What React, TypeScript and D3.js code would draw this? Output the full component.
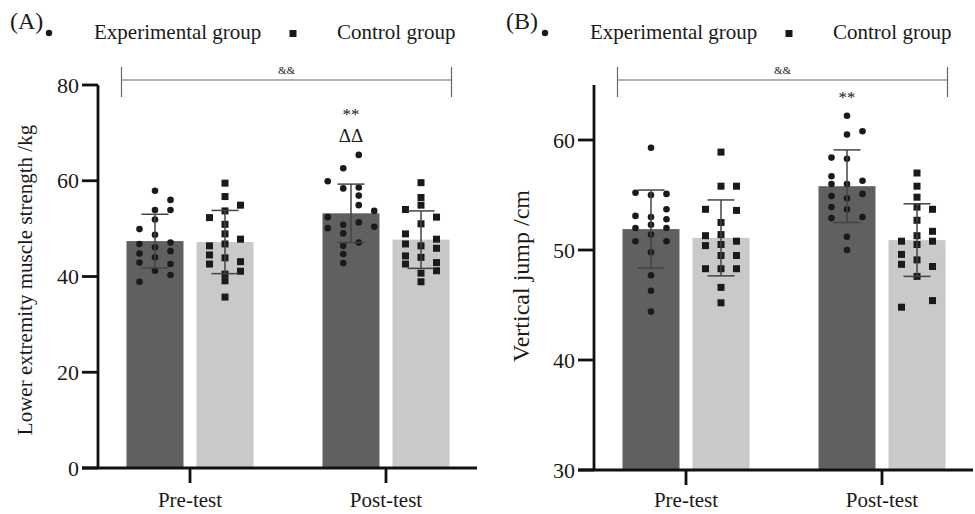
import React from 'react'
import * as d3 from 'd3'

const phases = ['Pre-test', 'Post-test']
const groups = ['Experimental group', 'Control group']

// [value, swarm column]
const strengthExpPre: [number, number][] = [
  [49.9, -1], [46.8, -1], [44.8, -1], [42.9, -1], [38.9, -1],
  [57.9, 0], [53.9, 0], [51.9, 0], [48.7, 0], [46.1, 0], [44.0, 0], [41.2, 0],
  [56.0, 1], [53.9, 1], [47.1, 1], [45.3, 1], [42.6, 1], [40.3, 1],
]
const strengthCtrlPre: [number, number][] = [
  [59.5, 0], [56.7, 0], [53.7, 0], [50.9, 0], [48.9, 0], [46.8, 0], [43.9, 0], [40.5, 0], [39.1, 0], [35.7, 0],
  [52.3, -1], [46.4, -1], [44.5, -1], [42.6, -1],
  [54.9, 1], [47.8, 1], [43.1, 1], [41.1, 1],
]
const strengthExpPost: [number, number][] = [
  [65.4, 0.5], [62.6, -0.5], [59.9, -1.5], [58.4, -0.5], [58.6, 0.5], [56.9, 0.5], [54.9, 0.5],
  [53.7, 1.5], [52.4, -1.5], [50.1, -1.5], [50.8, -0.5], [49.0, -0.5], [51.3, 0.5], [50.4, 1.5],
  [47.1, 0.5], [46.4, -0.5], [44.7, -0.5], [42.8, -0.5],
]
const strengthCtrlPost: [number, number][] = [
  [59.6, 0], [56.5, 0], [54.9, 0], [51.0, 0], [46.4, 0], [44.0, 0], [40.7, 0], [38.9, 0],
  [54.0, -1], [48.9, -1], [46.8, -1], [44.3, -1], [42.6, -1],
  [52.4, 1], [47.8, 1], [45.9, 1], [42.9, 1], [41.2, 1],
]
const strengthMeans = [[47.4, 47.2], [53.2, 47.7]]
const strengthSd = [[5.6, 6.6], [6.1, 6.0]]
const strengthTicks = [0, 20, 40, 60, 80]

const jumpExpPre: [number, number][] = [
  [59.3, 0], [55.2, -1], [55.0, 0], [55.1, 1], [53.7, 1], [53.1, -1], [53.0, 0], [52.8, 1], [52.0, -1],
  [52.3, 0], [52.0, 1], [51.4, 0], [50.8, -1], [50.8, 1], [49.8, 0], [47.7, 0], [46.3, 0], [44.4, 0],
]
const jumpCtrlPre: [number, number][] = [
  [58.9, 0], [55.8, 0], [55.8, 1], [53.7, -1], [53.6, 1], [52.5, 0], [51.3, -1], [51.4, 0], [50.4, -1],
  [50.5, 0], [50.8, 1], [49.5, 0], [49.5, 1], [48.3, -1], [48.3, 0], [48.3, 1], [46.6, 0], [45.2, 0],
]
const jumpExpPost: [number, number][] = [
  [62.2, 0], [60.5, 0], [60.8, 1], [58.4, -1], [58.3, 0], [56.7, -1], [56.0, -1], [56.0, 0], [56.3, 1],
  [54.9, -1], [54.7, 0], [55.1, 1], [53.9, -1], [53.7, 0], [52.9, -1], [53.0, 1], [51.2, 0], [50.0, 0],
]
const jumpCtrlPost: [number, number][] = [
  [57.0, 0], [55.8, 0], [54.8, 0], [53.9, 0], [53.7, 1], [52.7, 0], [51.7, 1], [51.3, 0], [50.8, -1],
  [50.5, 0], [50.8, 1], [49.6, -1], [49.1, 0], [48.7, -1], [48.5, 1], [47.6, 0], [45.4, 1], [44.8, -1],
]
const jumpMeans = [[51.9, 51.1], [55.8, 50.9]]
const jumpSd = [[3.55, 3.45], [3.3, 3.3]]
const jumpTicks = [30, 40, 50, 60]

const FONT = '"Liberation Serif", "Times New Roman", serif'
const DARK = '#606060'
const LIGHT = '#c8c9cb'
const INK = '#1a1a1a'

type Props = {
  ox: number
  yBottom: number
  tag: string
  title: string
  titleY: number
  titleSize: number
  domain: [number, number]
  ticks: number[]
  means: number[][]
  sds: number[][]
  points: [number, number][][][]
  marks: string[]
}

function Panel({ ox, yBottom, tag, title, titleY, titleSize, domain, ticks, means, sds, points, marks }: Props) {
  const y = d3.scaleLinear().domain(domain).range([yBottom, 85])
  const x = d3.scalePoint<string>().domain(phases).range([92, 288])
  const g = d3.scaleBand<string>().domain(groups).range([-63.5, 63.5]).paddingInner(0.186)
  const bw = g.bandwidth()
  const col = 15.5

  const left = (x(phases[0]) ?? 0) + (g(groups[0]) ?? 0) - 5
  const right = (x(phases[1]) ?? 0) + (g(groups[1]) ?? 0) + bw + 2

  return (
    <g transform={`translate(${ox},0)`} fontFamily={FONT} fill={INK}>
      {/* legend */}
      <text x={-88} y={29} fontSize={24}>{tag}</text>
      <circle cx={-49} cy={33} r={3.2} />
      <text x={-4} y={39} fontSize={21}>{groups[0]}</text>
      <rect x={191.5} y={30} width={7} height={7} />
      <text x={239} y={39} fontSize={21}>{groups[1]}</text>

      {/* bracket */}
      <g stroke="#666" strokeWidth={1.2} fill="none">
        <line x1={left} x2={right} y1={80} y2={80} />
        <line x1={left} x2={left} y1={67} y2={97} />
        <line x1={right} x2={right} y1={67} y2={97} />
      </g>
      <text x={(left + right) / 2} y={74} fontSize={11} textAnchor="middle">&amp;&amp;</text>

      {phases.map((p, i) =>
        groups.map((gr, j) => {
          const bx = (x(p) ?? 0) + (g(gr) ?? 0)
          const cx = bx + bw / 2
          const m = means[i][j]
          const s = sds[i][j]
          const pts = points[i][j]
          const topPt = d3.max(pts, (d) => d[0]) ?? m
          return (
            <g key={p + gr}>
              <rect x={bx} y={y(m)} width={bw} height={yBottom - y(m)} fill={j === 0 ? DARK : LIGHT} />
              {pts.map((d, k) =>
                j === 0 ? (
                  <circle key={k} cx={cx + d[1] * col} cy={y(d[0])} r={3.3} fill={INK} />
                ) : (
                  <rect key={k} x={cx + d[1] * col - 3.5} y={y(d[0]) - 3.5} width={7} height={7} fill={INK} />
                )
              )}
              <g stroke="#444" strokeWidth={1.5}>
                <line x1={cx} x2={cx} y1={y(m + s)} y2={y(m - s)} />
                <line x1={cx - 13.5} x2={cx + 13.5} y1={y(m + s)} y2={y(m + s)} />
                <line x1={cx - 13.5} x2={cx + 13.5} y1={y(m - s)} y2={y(m - s)} />
              </g>
              {i === 1 && j === 0 &&
                marks
                  .slice()
                  .reverse()
                  .map((t, k) => (
                    <text key={t} x={cx} y={y(topPt) - 13 - k * 22} fontSize={t === '**' ? 17 : 19} textAnchor="middle">
                      {t}
                    </text>
                  ))}
            </g>
          )
        })
      )}

      {/* axes */}
      <g stroke="#111" strokeWidth={2.8}>
        <line x1={0} x2={0} y1={y(domain[1])} y2={yBottom} />
        <line x1={-16} x2={379} y1={yBottom} y2={yBottom} />
        {ticks.map((t) => (
          <line key={t} x1={-16} x2={0} y1={y(t)} y2={y(t)} />
        ))}
        {phases.map((p) => (
          <line key={p} x1={x(p)} x2={x(p)} y1={yBottom} y2={yBottom + 15} />
        ))}
      </g>
      {ticks.map((t) => (
        <text key={t} x={-19} y={y(t)} dy="0.35em" fontSize={22} textAnchor="end">
          {t}
        </text>
      ))}
      {phases.map((p) => (
        <text key={p} x={x(p)} y={507} fontSize={21} textAnchor="middle">
          {p}
        </text>
      ))}
      <text
        transform={`translate(-73,${titleY}) rotate(-90)`}
        dy="0.35em"
        fontSize={titleSize}
        textAnchor="middle"
      >
        {title}
      </text>
    </g>
  )
}

export default function App() {
  return (
    <svg width={975} height={514} style={{ position: 'absolute', left: 0, top: 0, background: '#fff' }}>
      <Panel
        ox={98}
        yBottom={468}
        tag="(A)"
        title="Lower extremity muscle strength /kg"
        titleY={280}
        titleSize={21}
        domain={[0, 80]}
        ticks={strengthTicks}
        means={strengthMeans}
        sds={strengthSd}
        points={[
          [strengthExpPre, strengthCtrlPre],
          [strengthExpPost, strengthCtrlPost],
        ]}
        marks={['**', 'ΔΔ']}
      />
      <Panel
        ox={594}
        yBottom={470}
        tag="(B)"
        title="Vertical jump /cm"
        titleY={276}
        titleSize={24}
        domain={[30, 65]}
        ticks={jumpTicks}
        means={jumpMeans}
        sds={jumpSd}
        points={[
          [jumpExpPre, jumpCtrlPre],
          [jumpExpPost, jumpCtrlPost],
        ]}
        marks={['**']}
      />
    </svg>
  )
}
